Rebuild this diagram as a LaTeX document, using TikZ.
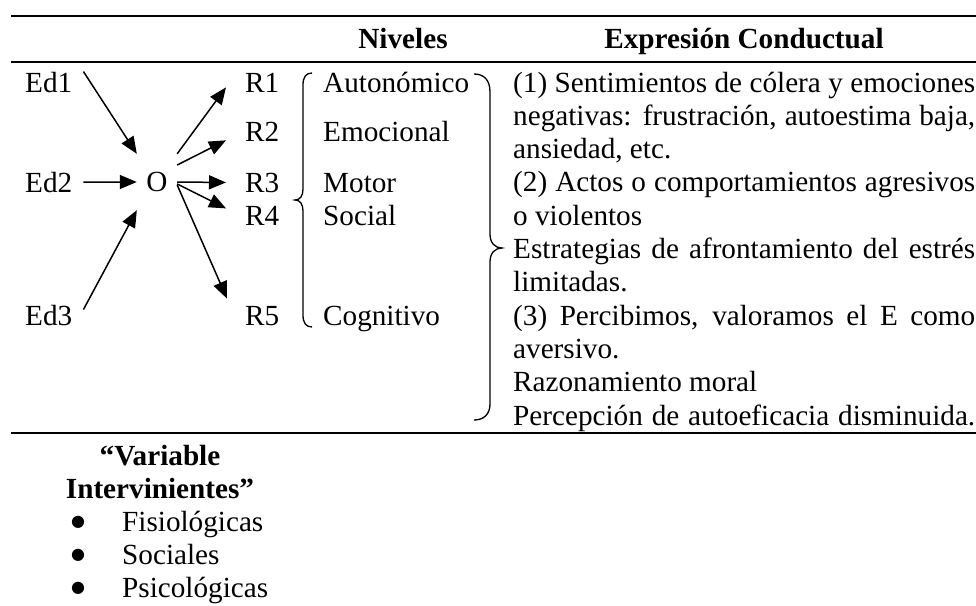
\documentclass[tikz,border=0pt]{standalone}
\usepackage{fontspec}
\setmainfont{Liberation Serif}
\newfontfamily\bulletfont{DejaVu Sans}
\usetikzlibrary{arrows.meta}
\begin{document}
\begin{tikzpicture}[x=1pt,y=-1pt,
  txt/.style={inner sep=0pt, font=\fontsize{29.2}{33.3}\selectfont, anchor=base west},
  hdr/.style={inner sep=0pt, font=\fontsize{29.2}{33.3}\selectfont\bfseries, anchor=base},
  blt/.style={inner sep=0pt, font=\bulletfont\fontsize{16}{16}\selectfont, anchor=center},
  tablerule/.style={line width=1.7pt},
  arr/.style={line width=1.5pt, -{Triangle[length=17pt,width=14pt]}},
  brc/.style={line width=1.3pt}]
\useasboundingbox (0,0) rectangle (976,605);
% table rules
\draw[tablerule] (11,16) -- (976,16);
\draw[tablerule] (11,62) -- (976,62);
\draw[tablerule] (11,433) -- (976,433);
% headers
\node[hdr] (hniv) at (403,48) {Niveles};
\node[hdr] (hexp) at (744,48) {Expresión Conductual};
% stimuli and organism
\node[txt] (ed1) at (25,92) {Ed1};
\node[txt] (ed2) at (25,192) {Ed2};
\node[txt] (ed3) at (25,325) {Ed3};
\node[inner sep=0pt, minimum width=40pt, minimum height=56pt,
      font=\fontsize{29.2}{33.3}\selectfont] (o) at (157,182) {O};
% responses
\node[txt] (r1) at (245,92) {R1};
\node[txt] (r2) at (245,141) {R2};
\node[txt] (r3) at (245,192) {R3};
\node[txt] (r4) at (245,225) {R4};
\node[txt] (r5) at (245,325) {R5};
% arrows
\draw[arr] ([xshift=11pt]ed1.north east) -- (o.north west);
\draw[arr] ([xshift=11pt]ed2.east) -- (o.west);
\draw[arr] ([xshift=11pt,yshift=-5pt]ed3.north east) -- (o.south west);
\draw[arr] (o.north east) -- ([xshift=-19pt,yshift=-5pt]r1.west);
\draw[arr] ([yshift=17pt]o.east) -- ([xshift=-19pt,yshift=-9pt]r2.west);
\draw[arr] (o.east) -- ([xshift=-19pt]r3.west);
\draw[arr] ([yshift=-2pt]o.east) -- ([xshift=-19pt,yshift=7pt]r4.west);
\draw[arr] ([yshift=-3pt]o.east) -- ([xshift=-18pt,yshift=17pt]r5.west);
% left brace
\draw[brc] (312,73) .. controls (306,73) and (303,77) .. (303,85)
  -- (303,189) .. controls (303,196) and (300,200) .. (295,200)
  .. controls (300,200) and (303,204) .. (303,211)
  -- (303,315) .. controls (303,323) and (306,327) .. (312,327);
% levels
\node[txt] (n1) at (323,92) {Autonómico};
\node[txt] (n2) at (323,141) {Emocional};
\node[txt] (n3) at (323,192) {Motor};
\node[txt] (n4) at (323,225) {Social};
\node[txt] (n5) at (323,325) {Cognitivo};
% right brace
\draw[brc] (474,74) .. controls (484,74) and (490,80) .. (490,92)
  -- (490,234) .. controls (490,243) and (495,248) .. (502,248)
  .. controls (495,248) and (490,253) .. (490,262)
  -- (490,404) .. controls (490,414) and (484,420) .. (474,420);
% behavioural expression
\node[txt] (l0) at (513,92) {\makebox[462pt][s]{(1) Sentimientos de cólera y emociones}};
\node[txt] (l1) at (513,125.3) {\makebox[462pt][s]{negativas: frustración, autoestima baja,}};
\node[txt] (l2) at (513,158.6) {ansiedad, etc.};
\node[txt] (l3) at (513,191.9) {\makebox[462pt][s]{(2) Actos o comportamientos agresivos}};
\node[txt] (l4) at (513,225.2) {o violentos};
\node[txt] (l5) at (513,258.5) {\makebox[462pt][s]{Estrategias de afrontamiento del estrés}};
\node[txt] (l6) at (513,291.8) {limitadas.};
\node[txt] (l7) at (513,325.1) {\makebox[462pt][s]{(3) Percibimos, valoramos el E como}};
\node[txt] (l8) at (513,358.4) {aversivo.};
\node[txt] (l9) at (513,391.7) {Razonamiento moral};
\node[txt] (l10) at (513,425) {\makebox[462pt][s]{Percepción de autoeficacia disminuida.}};
% intervening variables
\node[hdr] (v1) at (160,465) {“Variable};
\node[hdr] (v2) at (160,498) {Intervinientes”};
\node[blt] (b1) at (78,522) {●};
\node[blt] (b2) at (78,555) {●};
\node[blt] (b3) at (78,588) {●};
\node[txt] (t1) at (122,531) {Fisiológicas};
\node[txt] (t2) at (122,564) {Sociales};
\node[txt] (t3) at (122,597) {Psicológicas};
\end{tikzpicture}
\end{document}
